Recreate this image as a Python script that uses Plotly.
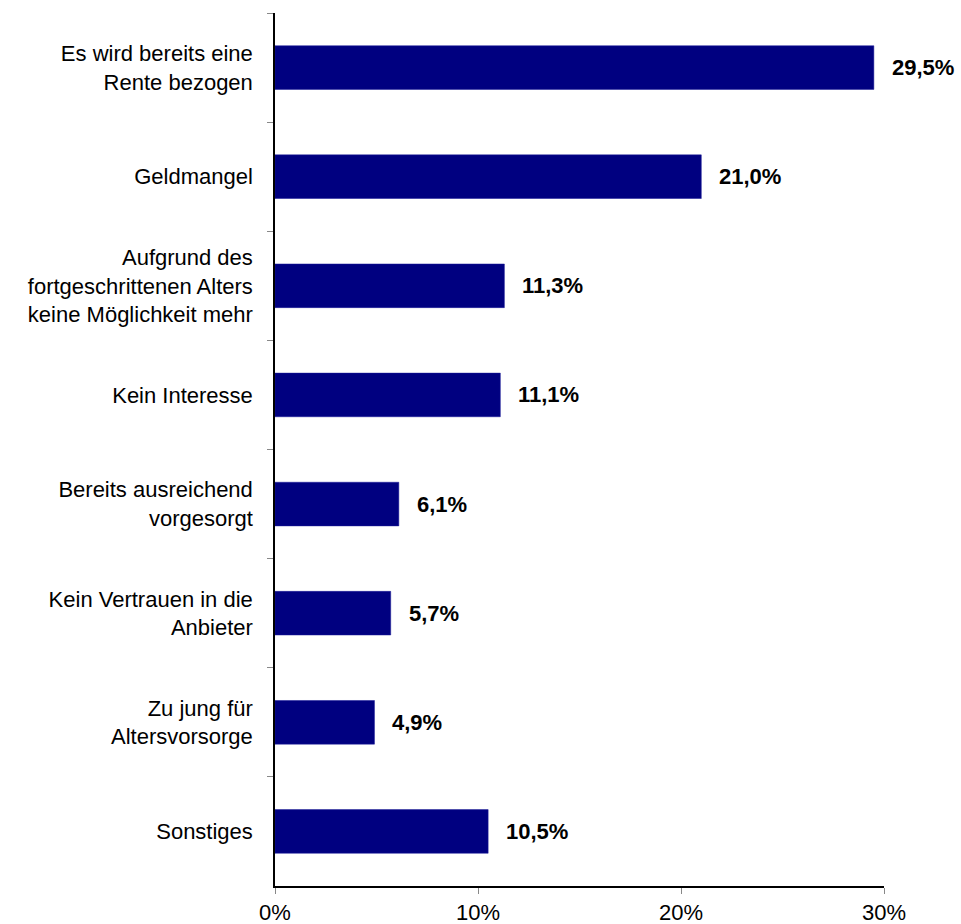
import plotly.graph_objects as go

categories = [
    "Es wird bereits eine<br>Rente bezogen",
    "Geldmangel",
    "Aufgrund des<br>fortgeschrittenen Alters<br>keine Möglichkeit mehr",
    "Kein Interesse",
    "Bereits ausreichend<br>vorgesorgt",
    "Kein Vertrauen in die<br>Anbieter",
    "Zu jung für<br>Altersvorsorge",
    "Sonstiges",
]
values = [29.5, 21.0, 11.3, 11.1, 6.1, 5.7, 4.9, 10.5]
value_labels = ["29,5%", "21,0%", "11,3%", "11,1%", "6,1%", "5,7%", "4,9%", "10,5%"]
x_ticks = [0, 10, 20, 30]
x_tick_labels = ["0%", "10%", "20%", "30%"]

font_family = "Liberation Sans, Arial, sans-serif"

fig = go.Figure()
fig.add_trace(go.Bar(
    x=values,
    y=categories,
    orientation="h",
    marker=dict(color="#000080", line=dict(color="#1a1a99", width=0.5)),
    hoverinfo="skip",
))

for v, c, lab in zip(values, categories, value_labels):
    fig.add_annotation(
        x=v, y=c, text="<b>" + lab + "</b>",
        showarrow=False, xanchor="left", yanchor="middle",
        xshift=16, font=dict(family=font_family, size=22, color="black"),
    )

fig.update_layout(
    width=961, height=924,
    margin=dict(l=275, r=77, t=13, b=38, autoexpand=False),
    paper_bgcolor="white", plot_bgcolor="white",
    showlegend=False,
    bargap=0.6,
    font=dict(family=font_family, size=22, color="black"),
    xaxis=dict(
        range=[0, 30], tickvals=x_ticks, ticktext=x_tick_labels,
        automargin=False,
        showgrid=False, zeroline=False,
        showline=True, linecolor="black", linewidth=1.5,
        ticks="outside", ticklen=6, tickcolor="#888888", tickwidth=1,
        tickfont=dict(family=font_family, size=22, color="black"),
    ),
    yaxis=dict(
        categoryorder="array", categoryarray=categories,
        autorange="reversed",
        automargin=False,
        showgrid=False, zeroline=False,
        showline=True, linecolor="black", linewidth=1.5,
        ticks="outside", ticklen=6, tickcolor="#888888", tickwidth=1,
        tickson="boundaries",
        ticklabelstandoff=16,
        tickfont=dict(family=font_family, size=22, color="black"),
    ),
)

fig.write_html(
    "out.html",
    config={"displayModeBar": False},
    post_script="document.body.style.margin='0';document.body.style.overflow='hidden';",
)
